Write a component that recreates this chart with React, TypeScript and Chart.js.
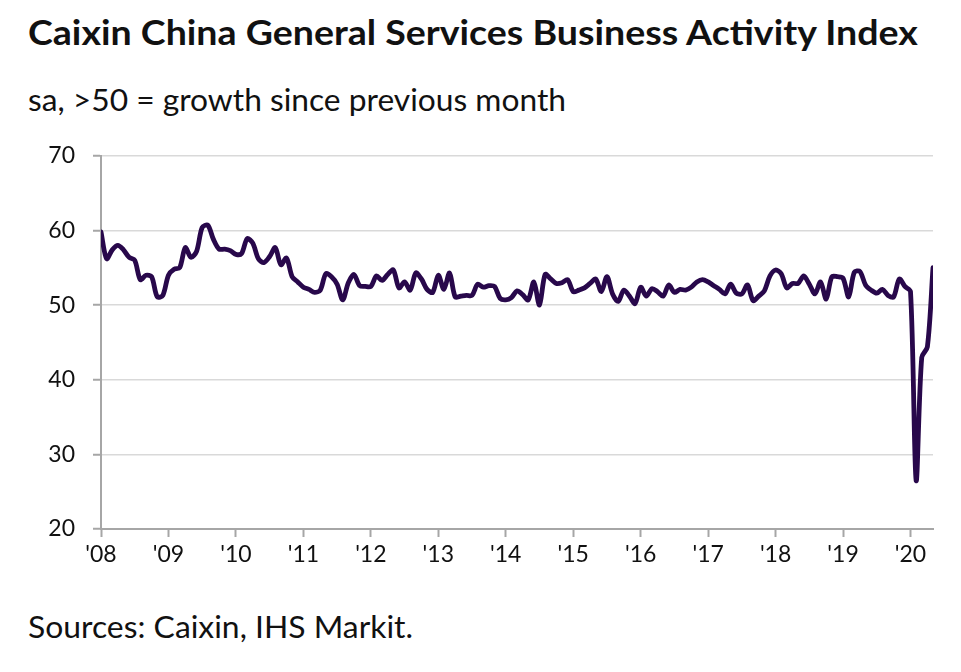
import React, { useEffect, useRef } from "react";
import { Chart, registerables } from "chart.js";

Chart.register(...registerables);

// ---- Data (monthly, Jan 2008 – May 2020) ----
const yearLabels = ["'08", "'09", "'10", "'11", "'12", "'13", "'14", "'15", "'16", "'17", "'18", "'19", "'20"];

const v2008 = [59.8, 56.2, 57.4, 58.0, 57.4, 56.4, 56.0, 53.4, 54.0, 53.8, 51.1, 51.3];
const v2009 = [54.0, 54.8, 55.0, 57.7, 56.4, 57.2, 60.4, 60.7, 58.8, 57.5, 57.5, 57.3];
const v2010 = [56.8, 56.9, 58.9, 58.3, 56.2, 55.7, 56.5, 57.7, 55.4, 56.3, 53.8, 53.1];
const v2011 = [52.4, 52.1, 51.7, 52.0, 54.2, 53.8, 52.8, 50.7, 53.0, 54.1, 52.6, 52.5];
const v2012 = [52.5, 53.9, 53.3, 54.1, 54.7, 52.3, 53.1, 52.0, 54.3, 53.5, 52.1, 51.7];
const v2013 = [54.0, 52.1, 54.3, 51.1, 51.2, 51.3, 51.3, 52.8, 52.4, 52.6, 52.5, 50.9];
const v2014 = [50.7, 51.0, 51.9, 51.4, 50.7, 53.1, 50.0, 54.1, 53.5, 52.9, 53.0, 53.4];
const v2015 = [51.8, 52.0, 52.3, 52.9, 53.5, 51.8, 53.8, 51.5, 50.5, 52.0, 51.2, 50.2];
const v2016 = [52.4, 51.2, 52.2, 51.8, 51.2, 52.7, 51.7, 52.1, 52.0, 52.4, 53.1, 53.4];
const v2017 = [53.1, 52.6, 52.1, 51.5, 52.8, 51.6, 51.5, 52.7, 50.6, 51.2, 51.9, 53.9];
const v2018 = [54.7, 54.2, 52.3, 52.9, 52.9, 53.9, 52.8, 51.5, 53.1, 50.8, 53.8, 53.8];
const v2019 = [53.6, 51.1, 54.4, 54.5, 52.7, 52.0, 51.6, 52.1, 51.3, 51.1, 53.5, 52.5];
const v2020 = [51.8, 26.5, 43.0, 44.4, 55.0];

const values = [
  ...v2008, ...v2009, ...v2010, ...v2011, ...v2012, ...v2013, ...v2014,
  ...v2015, ...v2016, ...v2017, ...v2018, ...v2019, ...v2020,
];

const yMin = 20;
const yMax = 70;
const yStep = 10;
const monthsPerYear = 12;

const TITLE = "Caixin China General Services Business Activity Index";
const SUBTITLE = "sa, >50 = growth since previous month";
const SOURCE = "Sources: Caixin, IHS Markit.";

const FONT = "Lato, 'Open Sans', sans-serif";
const LINE_COLOR = "#28084b";
const TEXT_COLOR = "#111111";
const AXIS_COLOR = "#a6a6a6";
const GRID_COLOR = "#d9d9d9";

function measure(text: string, font: string): number {
  const c = document.createElement("canvas");
  const ctx = c.getContext("2d");
  if (!ctx) return 1;
  ctx.font = font;
  return ctx.measureText(text).width || 1;
}

function FitText(props: { text: string; left: number; top: number; size: number; weight: number; width: number }) {
  const { text, left, top, size, weight, width } = props;
  const natural = measure(text, `${weight} ${size}px ${FONT}`);
  const k = width / natural;
  return (
    <div
      style={{
        position: "absolute",
        left,
        top,
        fontFamily: FONT,
        fontSize: size,
        fontWeight: weight,
        lineHeight: `${size}px`,
        whiteSpace: "nowrap",
        color: TEXT_COLOR,
        transform: `scaleX(${k})`,
        transformOrigin: "0 0",
      }}
    >
      {text}
    </div>
  );
}

export default function App() {
  const canvasRef = useRef<HTMLCanvasElement | null>(null);

  useEffect(() => {
    const canvas = canvasRef.current;
    if (!canvas) return;
    const chart = new Chart(canvas, {
      type: "line",
      data: {
        datasets: [
          {
            data: values.map((v, i) => ({ x: i, y: v })),
            borderColor: LINE_COLOR,
            borderWidth: 4.8,
            pointRadius: 0,
            tension: 0.3,
            fill: false,
            borderJoinStyle: "round",
            borderCapStyle: "round",
          },
        ],
      },
      options: {
        responsive: false,
        animation: false,
        layout: { padding: { top: 0, right: 28, bottom: 0, left: 0 } },
        plugins: { legend: { display: false }, tooltip: { enabled: false } },
        scales: {
          x: {
            type: "linear",
            min: 0,
            max: values.length - 1,
            afterBuildTicks: (s: any) => {
              s.ticks = yearLabels.map((_, i) => ({ value: i * monthsPerYear }));
            },
            afterFit: (s: any) => {
              s.height = 51;
            },
            ticks: {
              autoSkip: false,
              maxRotation: 0,
              padding: 4,
              color: TEXT_COLOR,
              font: { family: FONT, size: 23 },
              callback: (v: any) => yearLabels[Math.round(Number(v) / monthsPerYear)],
            },
            grid: {
              drawOnChartArea: false,
              drawTicks: true,
              tickLength: 8,
              tickColor: AXIS_COLOR,
              tickWidth: 2,
            },
            border: { color: AXIS_COLOR, width: 2 },
          },
          y: {
            min: yMin,
            max: yMax,
            afterFit: (s: any) => {
              s.width = 101;
            },
            ticks: {
              stepSize: yStep,
              padding: 18,
              color: TEXT_COLOR,
              font: { family: FONT, size: 23 },
            },
            grid: {
              color: GRID_COLOR,
              lineWidth: 1.5,
              tickLength: 8,
              tickColor: AXIS_COLOR,
              tickWidth: 2,
            },
            border: { color: AXIS_COLOR, width: 2 },
          },
        },
      },
    } as any);
    return () => chart.destroy();
  }, []);

  return (
    <div style={{ position: "absolute", left: 0, top: 0, width: 961, height: 672, background: "#ffffff", overflow: "hidden" }}>
      <FitText text={TITLE} left={28} top={15} size={34} weight={700} width={892} />
      <FitText text={SUBTITLE} left={28} top={84} size={30} weight={400} width={538} />
      <div style={{ position: "absolute", left: 0, top: 124, width: 961, height: 456 }}>
        <canvas ref={canvasRef} width={961} height={456} style={{ width: 961, height: 456, display: "block" }} />
      </div>
      <FitText text={SOURCE} left={28} top={611} size={30} weight={400} width={385} />
    </div>
  );
}
